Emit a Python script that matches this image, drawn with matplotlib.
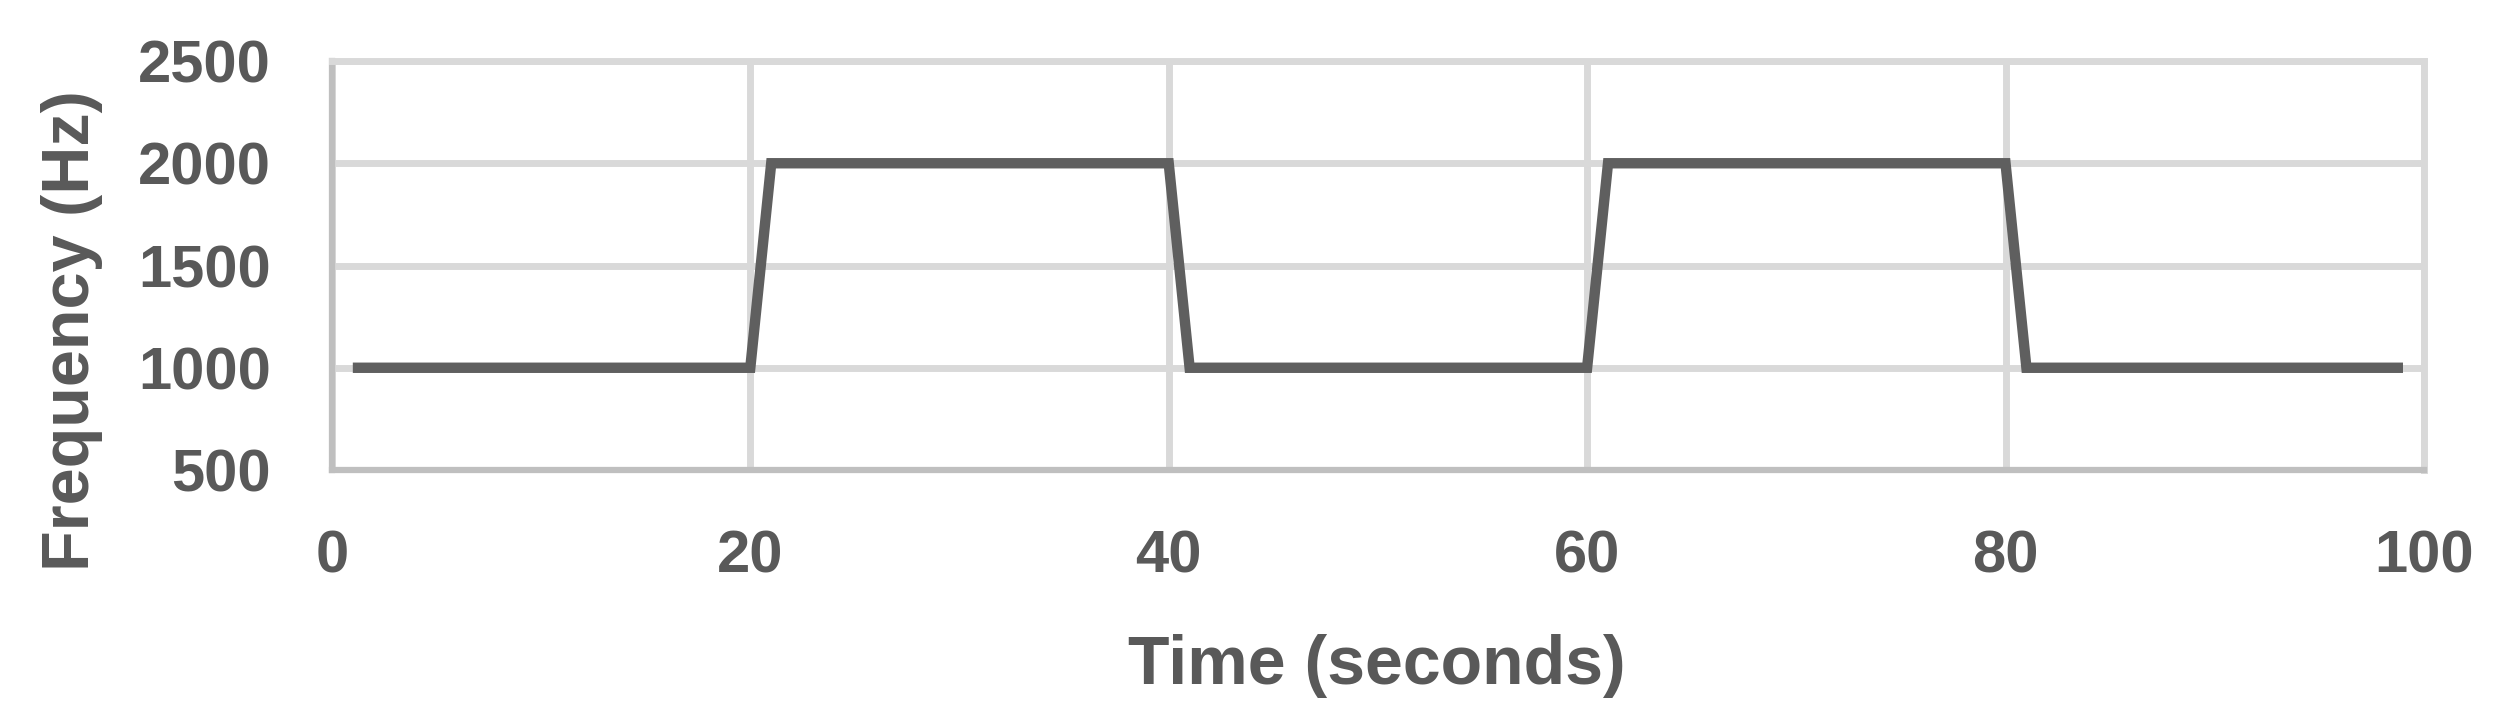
import matplotlib
matplotlib.use("Agg")
import matplotlib.pyplot as plt

# frequency steps over time
time_s = [1, 20, 21, 40, 41, 60, 61, 80, 81, 99]
freq_hz = [1000, 1000, 2000, 2000, 1000, 1000, 2000, 2000, 1000, 1000]

x_ticks = [0, 20, 40, 60, 80, 100]
y_ticks = [500, 1000, 1500, 2000, 2500]

text_color = "#595959"
grid_color = "#d9d9d9"
axis_color = "#bfbfbf"

plt.rcParams["font.family"] = ["Liberation Sans", "DejaVu Sans"]
plt.rcParams["font.weight"] = "bold"

fig = plt.figure(figsize=(25.03, 7.21), dpi=100)
ax = fig.add_axes([0.1326, 0.3481, 0.9684 - 0.1326, 0.9154 - 0.3481])

ax.plot(time_s, freq_hz, color="#5f5f5f", linewidth=7.5,
        solid_capstyle="butt", solid_joinstyle="miter", zorder=3)

ax.set_xlim(0, 100)
ax.set_ylim(500, 2500)
ax.set_xticks(x_ticks)
ax.set_yticks(y_ticks)
ax.grid(True, color=grid_color, linewidth=5, zorder=1)
ax.set_axisbelow(True)

for side in ["top", "right"]:
    ax.spines[side].set_color(grid_color)
    ax.spines[side].set_linewidth(5)
for side in ["left", "bottom"]:
    ax.spines[side].set_color(axis_color)
    ax.spines[side].set_linewidth(4.5)

ax.tick_params(axis="both", length=0, labelsize=43, labelcolor=text_color)
ax.tick_params(axis="y", pad=44)
ax.tick_params(axis="x", pad=43)
for lab in ax.get_xticklabels() + ax.get_yticklabels():
    lab.set_fontweight("bold")

fig.text(89 / 2503, (721 - 331) / 721, "Frequency (Hz)", rotation=90,
         rotation_mode="anchor", ha="center", va="baseline",
         fontsize=48, fontweight="bold", color=text_color)
fig.text(1377 / 2503, (721 - 684) / 721, "Time (seconds)",
         ha="center", va="baseline",
         fontsize=49, fontweight="bold", color=text_color)

fig.savefig("out.png", dpi=100)
